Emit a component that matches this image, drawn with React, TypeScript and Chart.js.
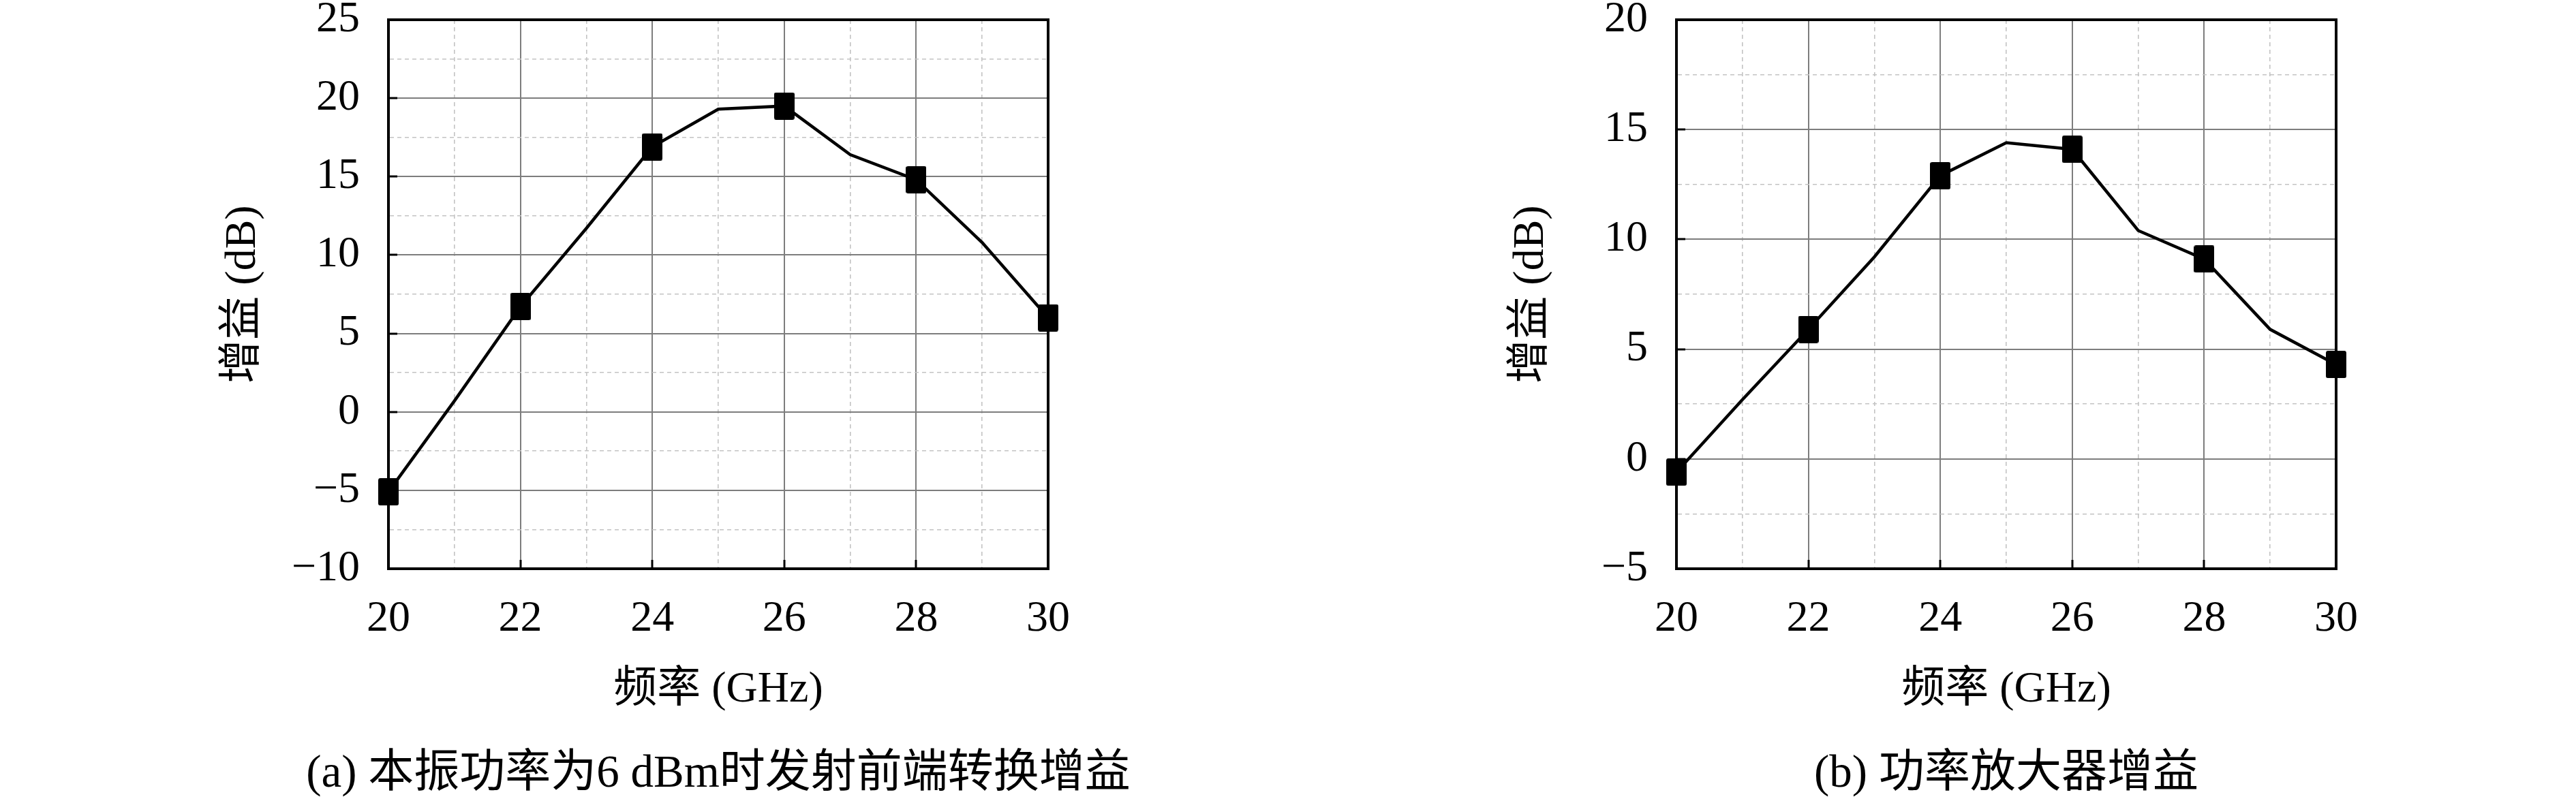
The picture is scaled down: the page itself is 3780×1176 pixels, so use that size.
import React, { useEffect, useRef } from "react";
import { Chart, registerables } from "chart.js";

Chart.register(...registerables);

// ---- data ----
const FREQ_GHZ = [20, 21, 22, 23, 24, 25, 26, 27, 28, 29, 30];
const GAIN_A_DB = [-5.1, 0.7, 6.7, 11.7, 16.9, 19.3, 19.5, 16.4, 14.8, 10.8, 6.0];
const GAIN_B_DB = [-0.6, 2.7, 5.9, 9.2, 12.9, 14.4, 14.1, 10.4, 9.1, 5.9, 4.3];
const X_TICK_LABELS = [20, 22, 24, 26, 28, 30];
const Y_RANGE_A = [-10, 25];
const Y_RANGE_B = [-5, 20];
const X_TITLE = "频率 (GHz)";
const Y_TITLE = "增益 (dB)";
const CAPTION_A = "(a) 本振功率为6 dBm时发射前端转换增益";
const CAPTION_B = "(b) 功率放大器增益";

const FONT = "'Liberation Serif', 'DejaVu Serif', 'Times New Roman', 'Noto Sans CJK SC', serif";
const MAJOR_GRID = "rgb(125,125,125)";
const MINOR_GRID = "rgb(195,195,195)";

Chart.defaults.font.family = FONT;
Chart.defaults.color = "#000";

const isMajorX = (c: any) => !!c.tick && Math.abs(c.tick.value % 2) < 1e-6;
const isMajorY = (c: any) => !!c.tick && Math.abs(c.tick.value % 5) < 1e-6;

function makeAxisGrid(isMajor: (c: any) => boolean) {
  return {
    color: (c: any) => (isMajor(c) ? MAJOR_GRID : MINOR_GRID),
    lineWidth: (c: any) => (isMajor(c) ? 2 : 1.6),
    drawTicks: true,
    tickLength: -13,
    tickWidth: 3,
    tickColor: (c: any) => (isMajor(c) ? "#000" : "rgba(0,0,0,0)"),
    tickBorderDash: [],
  };
}

function makeBorder(isMajor: (c: any) => boolean) {
  return {
    display: true,
    color: "#000",
    width: 4,
    dash: (c: any) => (!c.tick || isMajor(c) ? [] : [6, 5]),
  };
}

function GainChart({ values, yRange }: { values: number[]; yRange: number[] }) {
  const ref = useRef<HTMLCanvasElement | null>(null);

  useEffect(() => {
    const marker = document.createElement("canvas");
    marker.width = 30;
    marker.height = 40;
    const mctx = marker.getContext("2d")!;
    mctx.fillStyle = "#000";
    mctx.beginPath();
    if ((mctx as any).roundRect) (mctx as any).roundRect(0, 0, 30, 40, 3);
    else mctx.rect(0, 0, 30, 40);
    mctx.fill();

    const frame = {
      id: "frame",
      beforeDatasetsDraw(chart: any) {
        const { ctx, chartArea: a } = chart;
        ctx.save();
        ctx.strokeStyle = "#000";
        ctx.lineWidth = 4;
        ctx.strokeRect(a.left, a.top, a.right - a.left, a.bottom - a.top);
        ctx.restore();
      },
    };

    const chart = new Chart(ref.current!, {
      type: "line",
      data: {
        datasets: [
          {
            data: FREQ_GHZ.map((f, i) => ({ x: f, y: values[i] })),
            borderColor: "#000",
            backgroundColor: "#000",
            borderWidth: 4.5,
            tension: 0,
            pointStyle: marker as any,
            pointRadius: (c: any) => (FREQ_GHZ[c.dataIndex] % 2 === 0 ? 15 : 0),
            pointBackgroundColor: "#000",
            clip: false as any,
          },
        ],
      },
      options: {
        responsive: false,
        animation: false,
        events: [],
        layout: { padding: { left: 0, top: 29, right: 352, bottom: 0 } },
        plugins: { legend: { display: false }, tooltip: { enabled: false } },
        scales: {
          x: {
            type: "linear",
            position: "bottom",
            min: 20,
            max: 30,
            ticks: {
              stepSize: 1,
              autoSkip: false,
              maxRotation: 0,
              minRotation: 0,
              padding: 49,
              color: "#000",
              font: { size: 64, family: FONT },
              callback: (v: any) => (X_TICK_LABELS.includes(Number(v)) ? String(v) : ""),
            },
            grid: makeAxisGrid(isMajorX) as any,
            border: makeBorder(isMajorX) as any,
            title: {
              display: true,
              text: X_TITLE,
              color: "#000",
              font: { size: 64, family: FONT },
              padding: { top: 0, bottom: 124 },
            },
            afterFit: (s: any) => {
              s.height = 341;
              s.paddingLeft = 0;
              s.paddingRight = 0;
            },
          },
          y: {
            type: "linear",
            position: "left",
            min: yRange[0],
            max: yRange[1],
            ticks: {
              stepSize: 2.5,
              autoSkip: false,
              padding: 55,
              color: "#000",
              font: { size: 64, family: FONT },
              callback: (v: any) => {
                const n = Number(v);
                if (Math.abs(n % 5) > 1e-6) return "";
                return n < 0 ? "\u2212" + String(Math.abs(n)) : String(n);
              },
            },
            grid: makeAxisGrid(isMajorY) as any,
            border: makeBorder(isMajorY) as any,
            title: {
              display: true,
              text: Y_TITLE,
              color: "#000",
              font: { size: 64, family: FONT },
              padding: { top: 319, bottom: 0 },
            },
            afterFit: (s: any) => {
              s.width = 570;
              s.paddingTop = 0;
              s.paddingBottom = 0;
            },
          },
        },
      } as any,
      plugins: [frame as any],
    });

    return () => chart.destroy();
  }, [values, yRange]);

  return (
    <canvas
      ref={ref}
      width={1890}
      height={1176}
      style={{ width: 1890, height: 1176, display: "block" }}
    />
  );
}

function Caption({ text, center }: { text: string; center: number }) {
  return (
    <div
      style={{
        position: "absolute",
        left: center - 900,
        width: 1800,
        top: 1097,
        height: 70,
        lineHeight: "70px",
        fontSize: 67,
        fontFamily: FONT,
        textAlign: "center",
        color: "#000",
        whiteSpace: "nowrap",
      }}
    >
      {text}
    </div>
  );
}

export default function App() {
  return (
    <div
      style={{
        position: "absolute",
        left: 0,
        top: 0,
        width: 3780,
        height: 1176,
        background: "#fff",
        overflow: "hidden",
      }}
    >
      <div style={{ position: "absolute", left: 0, top: 0 }}>
        <GainChart values={GAIN_A_DB} yRange={Y_RANGE_A} />
      </div>
      <div style={{ position: "absolute", left: 1890, top: 0 }}>
        <GainChart values={GAIN_B_DB} yRange={Y_RANGE_B} />
      </div>
      <Caption text={CAPTION_A} center={1054} />
      <Caption text={CAPTION_B} center={1890 + 1054} />
    </div>
  );
}
